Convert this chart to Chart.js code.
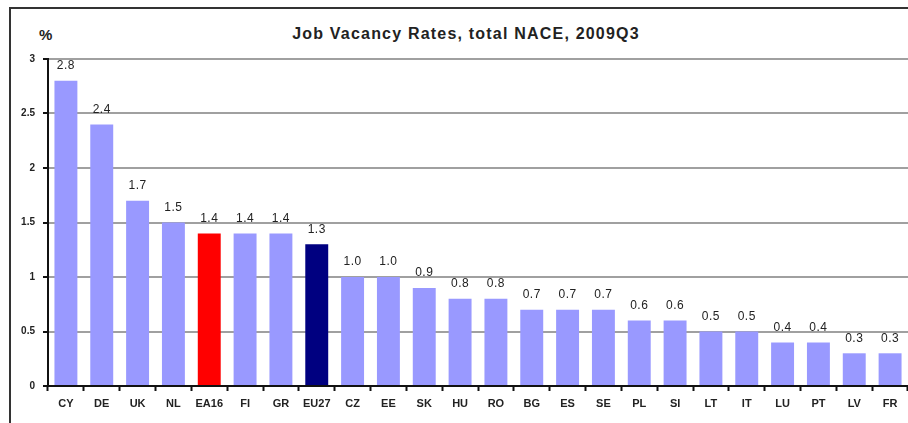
<!DOCTYPE html>
<html>
<head>
<meta charset="utf-8">
<script src="https://cdn.jsdelivr.net/npm/chart.js@4"></script>
<style>
  html, body { margin: 0; padding: 0; background: #fff; }
  #wrap { position: relative; width: 908px; height: 423px; overflow: hidden; }
  #frame { position: absolute; left: 9px; top: 7px; width: 960px; height: 460px;
           border-top: 2px solid #333; border-left: 2px solid #333; }
  #unit { position: absolute; left: 39px; top: 26px; font: bold 15px "Liberation Sans", Arial, sans-serif; color: #222; }
  #titulo { position: absolute; left: 266px; width: 400px; top: 25px; text-align: center;
            font: bold 16px "Liberation Sans", Arial, sans-serif; letter-spacing: 1.2px; color: #222; }
  canvas { position: absolute; left: 0; top: 0; }
</style>
</head>
<body>
<div id="wrap">
  <div id="frame"></div>
  <div id="unit">%</div>
  <div id="titulo">Job Vacancy Rates, total NACE, 2009Q3</div>
  <canvas id="myChart" width="908" height="423"></canvas>
</div>
<script>
// Datos
const paises = ['CY', 'DE', 'UK', 'NL', 'EA16', 'FI', 'GR', 'EU27', 'CZ', 'EE', 'SK', 'HU',
                'RO', 'BG', 'ES', 'SE', 'PL', 'SI', 'LT', 'IT', 'LU', 'PT', 'LV', 'FR'];
const tasas = [2.8, 2.4, 1.7, 1.5, 1.4, 1.4, 1.4, 1.3, 1.0, 1.0, 0.9, 0.8,
               0.8, 0.7, 0.7, 0.7, 0.6, 0.6, 0.5, 0.5, 0.4, 0.4, 0.3, 0.3];
const yTicks = [0, 0.5, 1, 1.5, 2, 2.5, 3];

const colores = paises.map(function (p) {
    if (p == 'EA16') return '#ff0000';
    if (p == 'EU27') return '#000080';
    return '#9999ff';
});

// etiquetas sobre las barras
const valueLabels = {
    id: 'valueLabels',
    afterDatasetsDraw(chart) {
        const ctx = chart.ctx;
        const meta = chart.getDatasetMeta(0);
        ctx.save();
        ctx.font = '12px "Liberation Sans", Arial, sans-serif';
        ctx.letterSpacing = '0.5px';
        ctx.fillStyle = '#222';
        ctx.textAlign = 'center';
        ctx.textBaseline = 'bottom';
        meta.data.forEach(function (bar, i) {
            ctx.fillText(tasas[i].toFixed(1), bar.x, bar.y - 9);
        });
        ctx.restore();
    }
};

const ctx = document.getElementById('myChart');
const myChart = new Chart(ctx, {
    type: 'bar',
    data: {
        labels: paises,
        datasets: [{
            data: tasas,
            backgroundColor: colores,
            borderWidth: 0,
            categoryPercentage: 1.0,
            barPercentage: 0.64
        }]
    },
    plugins: [valueLabels],
    options: {
        responsive: false,
        animation: false,
        layout: { padding: { left: 0, right: 0, top: 59, bottom: 0 } },
        plugins: {
            legend: { display: false },
            tooltip: { enabled: false },
            title: { display: false }
        },
        scales: {
            x: {
                grid: { color: 'rgba(0,0,0,0)', drawOnChartArea: false, drawTicks: true, tickLength: 5, tickColor: '#111', tickWidth: 2 },
                border: { color: '#111', width: 2 },
                ticks: {
                    color: '#222',
                    padding: 6,
                    maxRotation: 0,
                    autoSkip: false,
                    font: { family: '"Liberation Sans", Arial, sans-serif', size: 11, weight: 'bold' }
                },
                afterFit: function (scale) { scale.height = 37; }
            },
            y: {
                min: 0,
                max: 3,
                afterBuildTicks: function (scale) {
                    scale.ticks = yTicks.map(function (v) { return { value: v }; });
                },
                grid: { color: '#a0a0a0', lineWidth: 2, tickLength: 5, tickColor: '#111', tickWidth: 2 },
                border: { color: '#111', width: 2 },
                ticks: {
                    color: '#222',
                    padding: 8,
                    font: { family: '"Liberation Sans", Arial, sans-serif', size: 10, weight: 'bold' },
                    callback: function (v) { return String(v); }
                },
                afterFit: function (scale) { scale.width = 48; }
            }
        }
    }
});
</script>
</body>
</html>
